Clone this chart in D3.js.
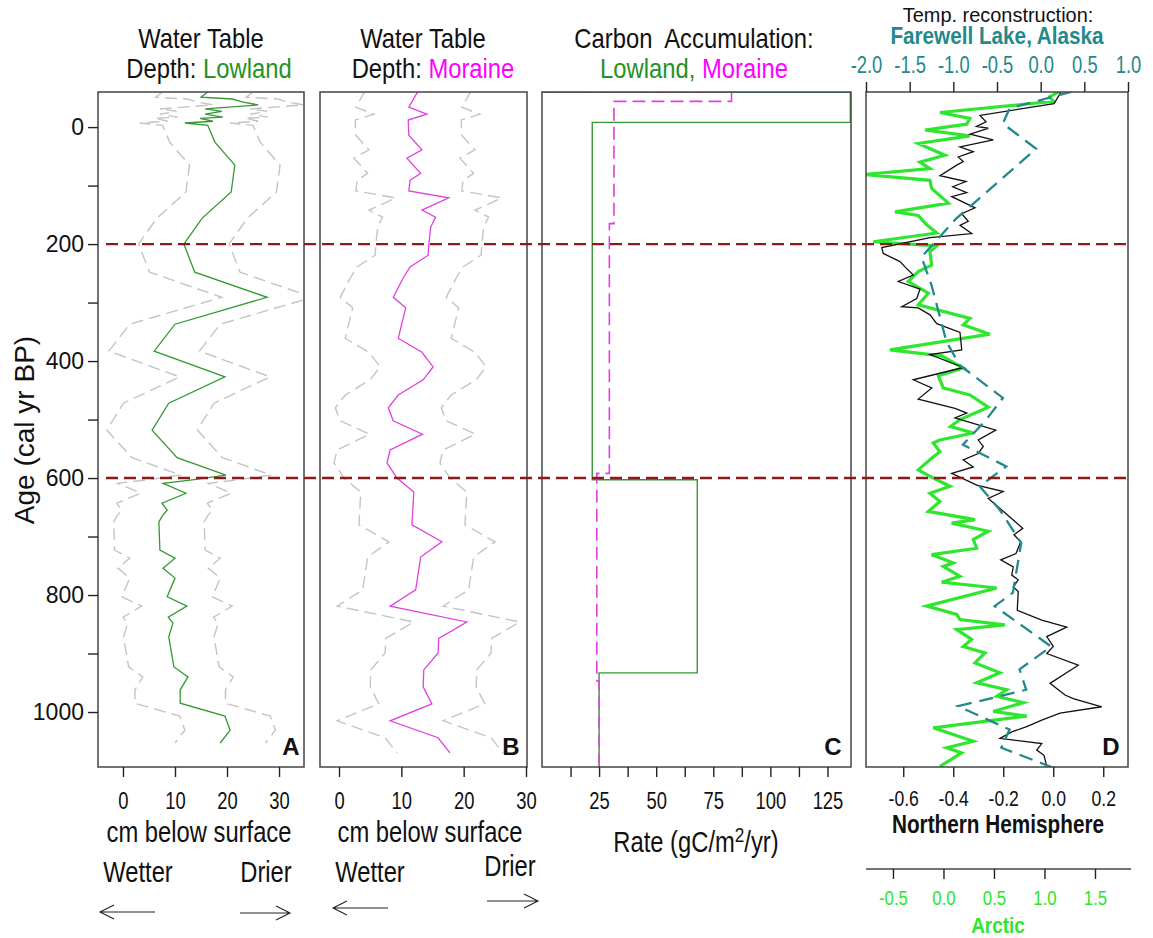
<!DOCTYPE html>
<html><head><meta charset="utf-8">
<script src="https://cdn.jsdelivr.net/npm/d3@7"></script>
<style>
body{margin:0;background:#fff}
svg{display:block}
text{font-family:"Liberation Sans",Arial,sans-serif}
</style></head><body>
<svg id="c" width="1153" height="938"></svg>
<script>
// ---------------- DATA ----------------
// Panel A: water-table depth, Lowland (cm below surface)
const lowYears = [-60,-51,-48,-43,-38,-31,-27,-22,-17,-15,-10,-7,-3,26,65,111,156,200,248,291,337,383,427,472,518,565,595,603,609,626,643,655,663,675,723,737,754,771,803,819,838,848,872,923,940,962,985,1007,1031,1053];
const lowWTD   = [16.3,15.0,21.0,22.9,26.0,15.8,19.0,15.8,19.2,14.8,17.3,11.9,16.3,17.7,21.5,20.8,15.2,11.7,13.8,27.7,10.0,6.0,19.6,8.8,5.6,10.4,19.8,13.3,7.7,12.1,7.5,8.5,7.7,6.9,7.1,10.0,7.7,10.0,8.5,12.3,8.7,9.6,8.8,9.8,12.5,11.0,11.0,19.6,20.6,18.7];
const lowErr   = [8.7,8.7,8.7,8.7,8.7,8.7,8.7,8.7,8.7,8.7,8.7,8.7,8.7,8.7,8.7,8.7,8.7,8.7,8.7,8.7,8.7,8.7,8.7,8.7,8.7,8.7,8.7,8.7,8.7,8.7,8.7,8.7,8.7,8.7,8.7,8.7,8.7,8.7,8.7,8.7,8.7,8.7,8.7,8.7,8.7,8.7,8.7,8.7,8.7,8.7];
// Panel B: water-table depth, Moraine
const morYears = [-62,-34,-22,-12,14,39,53,79,91,109,121,142,154,171,202,219,239,258,291,309,361,385,410,432,458,480,502,525,552,574,600,624,680,709,735,791,819,846,874,899,928,957,986,1015,1044,1070];
const morWTD   = [12.7,11.2,14.1,11.1,11.2,13.3,10.9,13.1,11.4,11.2,17.6,13.3,15.5,14.7,14.4,14.3,11.4,10.3,8.7,10.7,9.5,13.3,15.1,13.5,9.5,7.9,8.7,13.4,8.2,7.7,9.3,12.0,11.7,16.5,13.1,12.3,8.2,20.5,16.0,15.9,13.6,13.5,14.9,8.2,15.9,17.8];
const morErr   = [8.5,8.5,8.5,8.5,8.5,8.5,8.5,8.5,8.5,8.5,8.5,8.5,8.5,8.5,8.5,8.5,8.5,8.5,8.5,8.5,8.5,8.5,8.5,8.5,8.5,8.5,8.5,8.5,8.5,8.5,8.5,8.5,8.5,8.5,8.5,8.5,8.5,8.5,8.5,8.5,8.5,8.5,8.5,8.5,8.5,8.5];
// Panel C: carbon accumulation (step series: age breaks and rates)
const lowCBreaks = [-60,-8,603,933,1094];
const lowCRate   = [135,22,68,25];
const morCBreaks = [-60,-44,165,592,947,1094];
const morCRate   = [83,31.5,29.5,24,25];
// Panel D: temperature reconstructions
const nhYears = [-62,-40,-20,-9,-1,2,12,22,34,42,51,59,65,83,93,102,112,119,138,148,161,168,182,189,206,216,230,239,253,264,277,293,307,309,321,336,351,381,389,411,432,446,465,481,489,497,518,535,546,558,569,581,592,612,623,635,652,686,697,709,729,740,752,766,774,786,794,826,843,855,871,888,900,920,951,971,977,991,1002,1014,1025,1034,1045,1054,1065,1074,1093];
const nhTemp  = [0.034,0.003,-0.293,-0.269,-0.307,-0.26,-0.333,-0.24,-0.373,-0.32,-0.38,-0.36,-0.386,-0.453,-0.349,-0.402,-0.346,-0.406,-0.313,-0.366,-0.34,-0.373,-0.326,-0.493,-0.686,-0.68,-0.613,-0.593,-0.56,-0.62,-0.533,-0.546,-0.606,-0.54,-0.493,-0.466,-0.373,-0.366,-0.493,-0.36,-0.56,-0.486,-0.54,-0.393,-0.346,-0.393,-0.23,-0.3,-0.28,-0.3,-0.36,-0.32,-0.406,-0.306,-0.2,-0.26,-0.213,-0.122,-0.157,-0.13,-0.149,-0.21,-0.16,-0.166,-0.14,-0.16,-0.14,-0.144,-0.046,0.054,-0.026,0.0,-0.026,0.1,-0.013,0.047,0.08,0.194,0.027,-0.046,-0.106,-0.166,-0.213,-0.046,-0.066,-0.037,-0.026];
const arcYears = [-61,-52,-44,-25,-15,-5,5,15,28,48,60,71,81,91,105,130,145,151,167,181,196,203,213,236,247,264,284,304,327,338,354,381,391,412,425,446,458,479,500,512,523,535,540,555,566,586,600,614,626,640,657,671,677,691,705,720,731,745,751,768,778,788,819,833,842,851,859,876,888,899,916,933,950,962,973,984,999,1007,1027,1050,1061,1070,1093];
const arcTemp  = [1.153,1.054,1.087,-0.035,0.262,0.23,-0.183,0.262,-0.25,0.015,-0.233,-0.134,-0.777,-0.134,-0.117,0.048,-0.48,-0.25,-0.166,-0.067,-0.695,-0.067,-0.134,-0.117,-0.25,-0.349,-0.15,-0.25,0.262,0.196,0.46,-0.53,-0.018,0.196,-0.051,-0.002,0.262,0.444,0.163,0.07,0.295,-0.035,-0.101,-0.035,-0.117,-0.25,-0.101,0.064,-0.134,-0.035,-0.15,0.312,0.081,0.444,0.295,0.329,-0.117,0.097,-0.002,0.163,-0.018,0.527,-0.166,0.131,0.163,0.609,0.131,0.279,0.196,0.411,0.312,0.559,0.329,0.626,0.527,0.79,0.493,0.824,-0.101,0.295,0.032,0.18,-0.035];
const fwYears = [-61,-32,-6,37,156,222,270,367,407,463,500,543,580,614,654,711,796,819,888,927,962,990,1030,1061,1095];
const fwTemp  = [0.366,-0.356,-0.433,-0.051,-0.965,-1.364,-1.25,-1.079,-0.927,-0.433,-0.622,-0.89,-0.394,-0.699,-0.47,-0.223,-0.318,-0.527,0.12,-0.242,-0.166,-0.946,-0.356,-0.451,0.138];
// Event lines and tick values
const eventYears = [200,600];
const ageTicks = [0,100,200,300,400,500,600,700,800,900,1000];
const wtdTicks = [0,10,20,30];
const rateTicks = [12.5,25,37.5,50,62.5,75,87.5,100,112.5,125];
const rateLabels = [25,50,75,100,125];
const nhTicks = [-0.6,-0.4,-0.2,0.0,0.2];
const fwTicks = [-2.0,-1.5,-1.0,-0.5,0.0,0.5,1.0];
const arcTicks = [-0.5,0.0,0.5,1.0,1.5];

// ---------------- COLOURS ----------------
const GREEN="#349834", GREEN_T="#249224", PINK="#e040e0", MAG="#ff00ff", GRAY="#c4c4c4",
      TEAL="#23898a", RED="#8b1a1a", LIME="#2ee62e", FRAME="#444";
const NS = 0.8; // horizontal condensation of the narrow face

const svg = d3.select("#c");
const TOP=92, BOT=767;
const y = d3.scaleLinear().domain([-60,1094]).range([TOP,BOT]);

const xA = d3.scaleLinear().domain([-4.8,34.8]).range([98,304]);
const xB = d3.scaleLinear().domain([-3.05,30.16]).range([320,527]);
const xC = d3.scaleLinear().domain([0,135.3]).range([542,851]);
const xNH = d3.scaleLinear().domain([-0.749,0.299]).range([866,1128]);
const xFW = d3.scaleLinear().domain([-2,1]).range([866,1128]);
const xAR = d3.scaleLinear().domain([-0.767,1.827]).range([866,1128]);

const defs = svg.append("defs");
function clip(id, x0, x1){
  defs.append("clipPath").attr("id",id).append("rect")
    .attr("x",x0).attr("y",TOP).attr("width",x1-x0).attr("height",BOT-TOP);
  return "url(#"+id+")";
}
const cA=clip("cA",98,304), cB=clip("cB",320,527), cC=clip("cC",542,851), cD=clip("cD",866,1128);

function zipv(ys, vs){ return ys.map((yy,i)=>[vs[i], yy]); }
function linePath(xs){ return d3.line().x(d=>xs(d[0])).y(d=>y(d[1])); }

// ----- Panel A -----
const gA = svg.append("g").attr("clip-path",cA);
[1,-1].forEach(s=>{
  gA.append("path").attr("d", linePath(xA)(lowYears.map((yy,i)=>[lowWTD[i]+s*lowErr[i],yy])))
    .attr("fill","none").attr("stroke",GRAY).attr("stroke-width",1.4).attr("stroke-dasharray","12,6");
});
gA.append("path").attr("d", linePath(xA)(zipv(lowYears,lowWTD)))
  .attr("fill","none").attr("stroke",GREEN).attr("stroke-width",1.3);

// ----- Panel B -----
const gB = svg.append("g").attr("clip-path",cB);
[1,-1].forEach(s=>{
  gB.append("path").attr("d", linePath(xB)(morYears.map((yy,i)=>[morWTD[i]+s*morErr[i],yy])))
    .attr("fill","none").attr("stroke",GRAY).attr("stroke-width",1.4).attr("stroke-dasharray","12,6");
});
gB.append("path").attr("d", linePath(xB)(zipv(morYears,morWTD)))
  .attr("fill","none").attr("stroke",PINK).attr("stroke-width",1.3);

// ----- Panel C -----
function stepPts(br, vals){
  const p=[[0,br[0]]];
  vals.forEach((v,i)=>{p.push([v,br[i]]); p.push([v,br[i+1]]);});
  return p;
}
const gC = svg.append("g").attr("clip-path",cC);
gC.append("path").attr("d", linePath(xC)(stepPts(lowCBreaks,lowCRate)))
  .attr("fill","none").attr("stroke",GREEN).attr("stroke-width",1.4);
gC.append("path").attr("d", linePath(xC)(stepPts(morCBreaks,morCRate)))
  .attr("fill","none").attr("stroke",PINK).attr("stroke-width",1.6).attr("stroke-dasharray","13,6");

// ----- Panel D -----
const gD = svg.append("g").attr("clip-path",cD);
gD.append("path").attr("d", linePath(xAR)(zipv(arcYears,arcTemp)))
  .attr("fill","none").attr("stroke",LIME).attr("stroke-width",3.2);
gD.append("path").attr("d", linePath(xNH)(zipv(nhYears,nhTemp)))
  .attr("fill","none").attr("stroke","#111").attr("stroke-width",1.3);
gD.append("path").attr("d", linePath(xFW)(zipv(fwYears,fwTemp)))
  .attr("fill","none").attr("stroke",TEAL).attr("stroke-width",2.3).attr("stroke-dasharray","14,8");

// ----- frames -----
[[98,304],[320,527],[542,851],[866,1128]].forEach(([a,b])=>{
  svg.append("rect").attr("x",a).attr("y",TOP).attr("width",b-a).attr("height",BOT-TOP)
    .attr("fill","none").attr("stroke",FRAME).attr("stroke-width",1.5);
});

// ----- event lines -----
eventYears.forEach(ev=>{
  svg.append("line").attr("x1",106).attr("x2",1128).attr("y1",y(ev)).attr("y2",y(ev))
    .attr("stroke",RED).attr("stroke-width",2.4).attr("stroke-dasharray","12,6");
});

// ----- axes -----
function styleAxis(g, size, narrow, color){
  g.attr("font-family",null).attr("font-size",null);
  g.select(".domain").remove();
  g.selectAll(".tick line").attr("stroke","#222").attr("stroke-width",1.4);
  const t = g.selectAll(".tick text").attr("font-size",size).attr("fill",color||"#111");
  if(narrow) t.attr("transform",`scale(${NS},1)`);
}
const fmt1 = d=>d.toFixed(1);
const gy = svg.append("g").attr("transform","translate(98,0)")
  .call(d3.axisLeft(y).tickValues(ageTicks).tickSize(10).tickPadding(4).tickFormat(d=> d%200===0? d : ""));
styleAxis(gy, 23, false);
const gxA = svg.append("g").attr("transform",`translate(0,${BOT})`)
  .call(d3.axisBottom(xA).tickValues(wtdTicks).tickSize(10).tickPadding(16).tickFormat(d3.format("d")));
styleAxis(gxA, 23, true);
const gxB = svg.append("g").attr("transform",`translate(0,${BOT})`)
  .call(d3.axisBottom(xB).tickValues(wtdTicks).tickSize(10).tickPadding(16).tickFormat(d3.format("d")));
styleAxis(gxB, 23, true);
const gxC = svg.append("g").attr("transform",`translate(0,${BOT})`)
  .call(d3.axisBottom(xC).tickValues(rateTicks).tickSize(10).tickPadding(16).tickFormat(d=> rateLabels.includes(d)? d : ""));
styleAxis(gxC, 23, true);
const gxD = svg.append("g").attr("transform",`translate(0,${BOT})`)
  .call(d3.axisBottom(xNH).tickValues(nhTicks).tickSize(10).tickPadding(13).tickFormat(fmt1));
styleAxis(gxD, 22, true);
const gtD = svg.append("g").attr("transform",`translate(0,${TOP})`)
  .call(d3.axisTop(xFW).tickValues(fwTicks).tickSize(10).tickPadding(9).tickFormat(fmt1));
styleAxis(gtD, 23, true, TEAL);
const AY = 869;
svg.append("line").attr("x1",866).attr("x2",1131).attr("y1",AY).attr("y2",AY).attr("stroke","#444").attr("stroke-width",1.5);
const gAr = svg.append("g").attr("transform",`translate(0,${AY})`)
  .call(d3.axisBottom(xAR).tickValues(arcTicks).tickSize(10).tickPadding(11).tickFormat(fmt1));
styleAxis(gAr, 21, true, LIME);

// ----- texts -----
function txt(x,yy,s,size,opts){
  opts=opts||{};
  const t=svg.append("text").attr("text-anchor",opts.anchor||"middle")
    .attr("font-size",size).attr("fill",opts.fill||"#111");
  if(opts.regular) t.attr("x",x).attr("y",yy);
  else t.attr("transform",`translate(${x},${yy}) scale(${opts.ns||NS},1)`);
  if(opts.bold) t.attr("font-weight","bold");
  if(s) t.text(s);
  return t;
}
txt(201,48,"Water Table",28,{ns:0.85});
const tA=txt(209,78,"",28,{ns:0.85}); tA.append("tspan").text("Depth: "); tA.append("tspan").attr("fill",GREEN_T).text("Lowland");
txt(423,48,"Water Table",28,{ns:0.85});
const tB=txt(433,78,"",28,{ns:0.85}); tB.append("tspan").text("Depth: "); tB.append("tspan").attr("fill",MAG).text("Moraine");
txt(694,48,"Carbon\u00a0 Accumulation:",28,{ns:0.85});
const tC=txt(694,78,"",28,{ns:0.85}); tC.append("tspan").attr("fill",GREEN_T).text("Lowland, "); tC.append("tspan").attr("fill",MAG).text("Moraine");
txt(998,22,"Temp. reconstruction:",21,{ns:0.95});
txt(997,44,"Farewell Lake, Alaska",23,{bold:true,fill:TEAL,ns:0.9});

txt(291,755,"A",24,{bold:true,regular:true});
txt(511,755,"B",24,{bold:true,regular:true});
txt(833,755,"C",24,{bold:true,regular:true});
txt(1111,755,"D",24,{bold:true,regular:true});

svg.append("text").attr("font-size",28).attr("fill","#111")
  .attr("text-anchor","middle").attr("transform","translate(34,430) rotate(-90)").text("Age (cal yr BP)");

txt(199,842,"cm below surface",29,{ns:0.82});
txt(430,842,"cm below surface",29,{ns:0.82});
txt(138,882,"Wetter",29,{ns:0.82}); txt(266,882,"Drier",29,{ns:0.82});
txt(370,882,"Wetter",29,{ns:0.82}); txt(510,876,"Drier",29,{ns:0.82});
const tR=txt(696,852,"",29,{ns:0.82}); tR.append("tspan").text("Rate (gC/m"); tR.append("tspan").attr("dy",-10).attr("font-size",21).text("2");
tR.append("tspan").attr("dy",10).text("/yr)");
txt(998,833,"Northern Hemisphere",25,{bold:true,ns:0.83});
txt(998,933,"Arctic",22,{bold:true,fill:LIME,ns:0.86});

function arrow(x1,x2,yy){ // tip at x2
  const d = x2<x1 ? 1 : -1;
  svg.append("path").attr("d",`M${x1},${yy}L${x2},${yy}M${x2+d*14},${yy-7}L${x2},${yy}L${x2+d*14},${yy+7}`)
    .attr("fill","none").attr("stroke","#222").attr("stroke-width",1.1);
}
arrow(155,100,912); arrow(240,290,913);
arrow(388,333,908); arrow(487,538,901);
</script></body></html>
